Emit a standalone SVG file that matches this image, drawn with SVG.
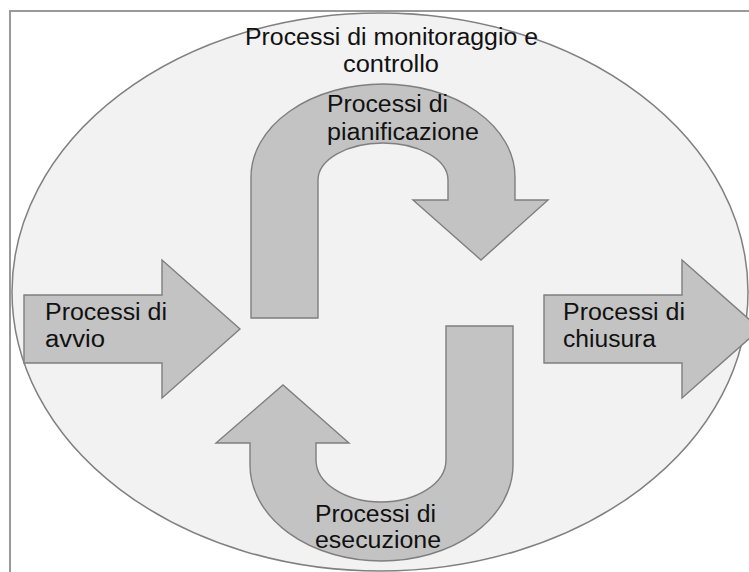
<svg xmlns="http://www.w3.org/2000/svg" width="749" height="572" viewBox="0 0 749 572">
  <style>
    .frame { fill: #ffffff; stroke: #999999; stroke-width: 2; }
    .oval { fill: #f2f2f2; stroke: #808080; stroke-width: 1.5; }
    .shape { fill: #c3c3c3; stroke: #7f7f7f; stroke-width: 1.4; stroke-linejoin: miter; }
    .lbl { font-family: "Liberation Sans", Arial, sans-serif; font-size: 23px; fill: #111111; }
  </style>

  <!-- page frame -->
  <rect class="frame" x="10" y="11" width="760" height="580"/>

  <!-- monitoring and control: the enclosing oval -->
  <g id="monitoraggio">
    <ellipse class="oval" cx="380" cy="292" rx="368" ry="279"/>
    <text class="lbl" x="245" y="45" textLength="293" lengthAdjust="spacingAndGlyphs">Processi di monitoraggio e</text>
    <text class="lbl" x="343" y="72" textLength="96" lengthAdjust="spacingAndGlyphs">controllo</text>
  </g>

  <!-- initiating -->
  <g id="avvio">
    <path class="shape" d="M24 295 L162 295 L162 260 L240 329 L162 398 L162 363 L24 363 Z"/>
    <text class="lbl" x="45" y="320" textLength="122" lengthAdjust="spacingAndGlyphs">Processi di</text>
    <text class="lbl" x="45" y="347" textLength="60" lengthAdjust="spacingAndGlyphs">avvio</text>
  </g>

  <!-- planning: U-turn arrow over the top -->
  <g id="pianificazione">
    <path class="shape" d="M251 318 L251 177 A132 93 0 0 1 515 177 L515 200 L548 200 L481 260 L413 200 L448 200 L448 180 A65 37 0 0 0 318 180 L318 318 Z"/>
    <text class="lbl" x="327" y="112" textLength="121" lengthAdjust="spacingAndGlyphs">Processi di</text>
    <text class="lbl" x="327" y="140" textLength="152" lengthAdjust="spacingAndGlyphs">pianificazione</text>
  </g>

  <!-- executing: U-turn arrow underneath -->
  <g id="esecuzione">
    <path class="shape" d="M446 326 L513 326 L513 465 A131.5 96 0 0 1 250 465 L250 443 L216 443 L283 385 L349 443 L316 443 L316 460 A65 42 0 0 0 446 460 Z"/>
    <text class="lbl" x="315" y="522" textLength="121" lengthAdjust="spacingAndGlyphs">Processi di</text>
    <text class="lbl" x="315" y="548" textLength="126" lengthAdjust="spacingAndGlyphs">esecuzione</text>
  </g>

  <!-- closing -->
  <g id="chiusura">
    <path class="shape" d="M544 295 L682 295 L682 260 L760 329 L682 398 L682 363 L544 363 Z"/>
    <text class="lbl" x="563" y="320" textLength="122" lengthAdjust="spacingAndGlyphs">Processi di</text>
    <text class="lbl" x="563" y="347" textLength="93" lengthAdjust="spacingAndGlyphs">chiusura</text>
  </g>

  <g id="connectors"/>
</svg>
